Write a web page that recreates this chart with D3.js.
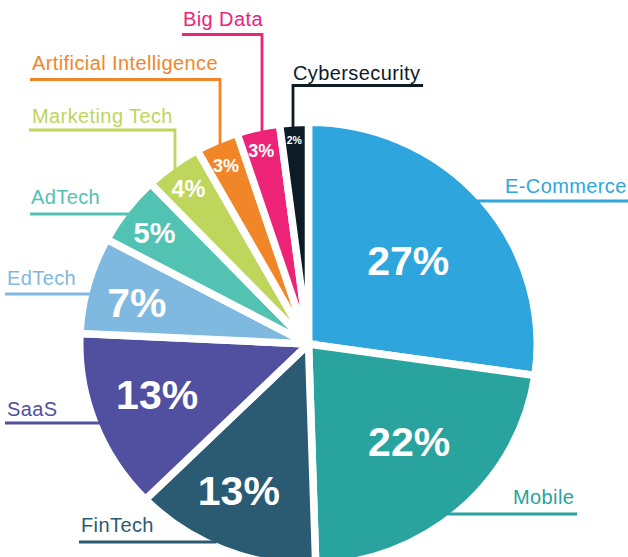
<!DOCTYPE html>
<html>
<head>
<meta charset="utf-8">
<script src="https://cdn.jsdelivr.net/npm/d3@7"></script>
<style>
  html, body { margin: 0; padding: 0; background: #fff; }
  svg { display: block; }
  text { font-family: "Liberation Sans", Arial, Helvetica, sans-serif; }
</style>
</head>
<body>
<svg id="chart" width="628" height="557"></svg>
<script>
// ---- data ----
const categories = ["E-Commerce", "Mobile", "FinTech", "SaaS", "EdTech", "AdTech",
  "Marketing Tech", "Artificial Intelligence", "Big Data", "Cybersecurity"];
const values = [27, 22, 13, 13, 7, 5, 4, 3, 3, 2];
const colors = ["#2EA6DD", "#29A39D", "#2B5A73", "#5150A0", "#7FB9DF", "#52C2B3",
  "#BED65B", "#F18628", "#ED2378", "#0D1B27"];

// ---- layout (styling / annotation placement) ----
const W = 628, H = 557;
const cx = 308.5, cy = 344;
const R = 228.75, ky = 0.969, gap = 7.5;
const pctRadius = [132, 142, 166, 160, 177, 192, 200, 202, 205, 211];
const pctAngleOffset = [0, -3.3, 3, 2, -1.4, -0.6, -0.5, -0.5, -0.6, -0.2];
const pctSize = [41, 41, 41, 41, 41, 29, 23.5, 18, 18, 10.5];
// label: text x, baseline y, underline y, underline outer x, vertical leader x (or null)
const labelLayout = [
  { tx: 505, ty: 193, ly: 201, lx: 628, vx: null },
  { tx: 513, ty: 504, ly: 514, lx: 577, vx: null },
  { tx: 81,  ty: 532, ly: 542, lx: 79,  vx: null },
  { tx: 7,   ty: 416, ly: 423, lx: 5,   vx: null },
  { tx: 7,   ty: 285, ly: 294, lx: 5,   vx: null },
  { tx: 31,  ty: 204, ly: 214, lx: 30,  vx: null },
  { tx: 32,  ty: 123, ly: 130, lx: 29,  vx: 175 },
  { tx: 32,  ty: 70,  ly: 79.5, lx: 30, vx: 220 },
  { tx: 183, ty: 26,  ly: 34.5, lx: 182, vx: 262 },
  { tx: 293, ty: 80,  ly: 85.5, lx: 423, vx: 293 }
];

const svg = d3.select("#chart");

const pie = d3.pie().sort(null).value(d => d);
const arcs = pie(values);
const arc = d3.arc().innerRadius(0).outerRadius(R);

const g = svg.append("g")
  .attr("transform", `translate(${cx},${cy}) scale(1,${ky})`);

g.selectAll("path.slice")
  .data(arcs)
  .join("path")
  .attr("class", "slice")
  .attr("d", arc)
  .attr("fill", (d, i) => colors[i])
  .attr("stroke", "#fff")
  .attr("stroke-width", gap)
  .attr("stroke-linejoin", "miter")
  .attr("vector-effect", "non-scaling-stroke");

// visible fill edge (ellipse)
const rxF = R - gap / 2, ryF = R * ky - gap / 2;
function edgeX(y, side) {
  const dy = y - cy;
  const t = Math.max(0, 1 - (dy / ryF) ** 2);
  return cx + side * rxF * Math.sqrt(t);
}
function edgeY(x) {
  const dx = x - cx;
  const t = Math.max(0, 1 - (dx / rxF) ** 2);
  return cy - ryF * Math.sqrt(t);
}

// leader lines + category labels
const labels = svg.append("g");
arcs.forEach((d, i) => {
  const L = labelLayout[i];
  const col = colors[i];
  let pathD;
  if (L.vx === null) {
    const side = L.lx > cx ? 1 : -1;
    const ex = edgeX(L.ly, side) - side * 2;
    pathD = `M${L.lx},${L.ly}H${ex}`;
  } else {
    const ey = edgeY(L.vx) + 2;
    pathD = `M${L.lx},${L.ly}H${L.vx}V${ey}`;
  }
  labels.append("path")
    .attr("d", pathD)
    .attr("fill", "none")
    .attr("stroke", col)
    .attr("stroke-width", 2.8)
    .attr("stroke-linejoin", "miter")
    .attr("stroke-linecap", "butt");
  labels.append("text")
    .attr("x", L.tx)
    .attr("y", L.ty)
    .attr("fill", col)
    .attr("font-size", 20)
    .attr("letter-spacing", "0.4px")
    .text(categories[i]);
});

// percentage labels
const total = d3.sum(values);
svg.append("g")
  .selectAll("text")
  .data(arcs)
  .join("text")
  .attr("x", (d, i) => {
    const a = (d.startAngle + d.endAngle) / 2 + pctAngleOffset[i] * Math.PI / 180;
    return cx + pctRadius[i] * Math.sin(a);
  })
  .attr("y", (d, i) => {
    const a = (d.startAngle + d.endAngle) / 2 + pctAngleOffset[i] * Math.PI / 180;
    return cy - pctRadius[i] * Math.cos(a) * ky;
  })
  .attr("dy", "0.36em")
  .attr("text-anchor", "middle")
  .attr("fill", "#fff")
  .attr("font-weight", "bold")
  .attr("font-size", (d, i) => pctSize[i])
  .text(d => `${d.data}%`);
</script>
</body>
</html>
